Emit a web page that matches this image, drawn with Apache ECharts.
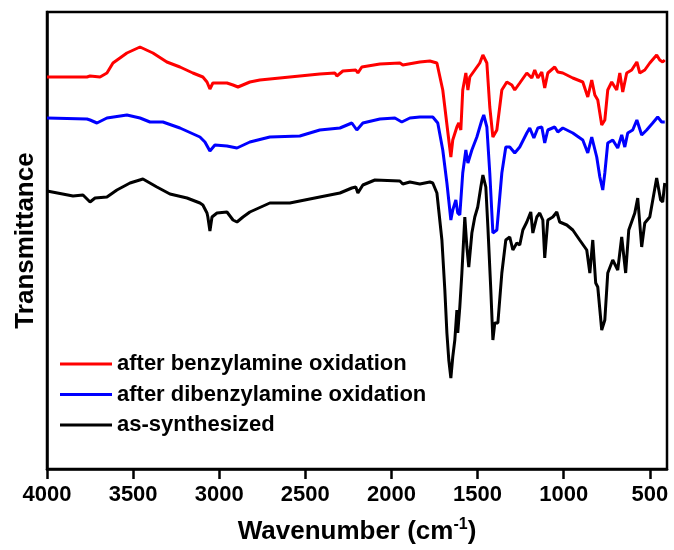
<!DOCTYPE html>
<html>
<head>
<meta charset="utf-8">
<script src="https://cdn.jsdelivr.net/npm/echarts@6/dist/echarts.min.js"></script>
<style>
html,body{margin:0;padding:0;background:#fff;}
#chart{width:674px;height:550px;}
</style>
</head>
<body>
<div id="chart"></div>
<script>
// Legend / series names
var seriesNames = ['after benzylamine oxidation', 'after dibenzylamine oxidation', 'as-synthesized'];
var seriesColors = ['#ff0000', '#0000ff', '#000000'];

// X tick labels (wavenumber, cm-1)
var xTicks = [4000, 3500, 3000, 2500, 2000, 1500, 1000, 500];

// after benzylamine oxidation (red), offset transmittance (a.u.)
var redWn = [4000,3849,3768,3750,3739,3692,3652,3617,3536,3460,3385,3304,3228,3153,3095,3071,3054,3037,2955,2920,2891,2880,2822,2764,2590,2416,2328,2317,2282,2207,2195,2172,2067,1951,1934,1835,1777,1736,1731,1702,1672,1655,1644,1620,1609,1597,1586,1568,1556,1545,1516,1487,1469,1446,1429,1411,1388,1359,1330,1301,1284,1255,1214,1185,1168,1150,1127,1110,1092,1052,1034,1005,947,889,860,837,819,802,779,761,744,721,692,674,657,634,605,575,558,529,500,460,442,425,413];
var redT  = [392,392,392,393,391,392,396,406,416,422,416,407,402,396,392,387,380,386,386,384,382,384,387,389,392,395,396,393,398,399,396,402,405,406,404,407,408,406,404,379,336,312,329,342,346,339,379,396,379,392,399,406,414,406,362,332,339,379,387,384,379,386,396,391,399,391,397,381,396,402,397,396,391,387,372,389,374,369,344,349,379,387,379,396,377,396,399,407,396,399,406,414,409,407,409];

// after dibenzylamine oxidation (blue)
var blueWn = [4000,3768,3750,3739,3710,3652,3536,3460,3402,3327,3228,3112,3083,3054,3025,2955,2897,2822,2706,2532,2416,2299,2230,2201,2166,2067,1980,1940,1893,1835,1760,1731,1702,1678,1655,1644,1626,1615,1603,1586,1568,1556,1533,1504,1475,1464,1446,1429,1411,1388,1359,1336,1313,1284,1255,1214,1197,1173,1150,1127,1110,1092,1052,1034,1005,947,889,860,837,808,790,773,761,744,715,686,663,645,628,599,575,547,518,483,454,431,413];
var blueT  = [351,350,349,351,346,351,354,351,347,347,341,332,327,318,324,323,321,327,332,333,339,341,346,339,346,350,351,347,351,352,352,346,319,286,249,259,269,256,254,296,319,306,319,332,349,354,342,296,236,239,296,322,322,316,322,336,341,331,341,342,326,339,342,337,341,336,329,316,332,312,292,279,296,326,329,321,334,322,336,339,349,334,339,346,352,347,347];

// as-synthesized (black)
var blackWn = [4000,3849,3791,3750,3721,3652,3594,3518,3443,3362,3286,3187,3112,3095,3071,3066,3054,3042,3013,2955,2920,2897,2862,2822,2706,2590,2503,2416,2299,2230,2207,2195,2166,2096,1951,1934,1893,1835,1777,1760,1736,1707,1690,1678,1667,1655,1644,1632,1620,1615,1603,1591,1574,1562,1551,1533,1516,1499,1481,1469,1452,1440,1423,1411,1400,1382,1359,1336,1313,1295,1272,1255,1237,1214,1191,1179,1156,1139,1121,1110,1092,1063,1040,1023,982,947,907,866,848,831,814,802,779,761,744,715,686,663,640,622,587,570,547,529,500,460,437,425,413];
var blackT  = [278,273,274,267,271,272,279,286,290,282,275,271,266,264,256,252,238,252,256,257,249,247,252,257,266,266,269,272,276,281,282,276,284,289,288,285,287,285,287,286,276,229,179,136,109,91,112,129,159,136,162,196,252,222,202,236,252,262,282,294,282,242,179,129,146,146,196,229,232,219,226,224,239,247,257,236,252,256,249,211,249,252,257,247,244,239,229,219,196,229,186,182,139,149,196,209,199,232,196,239,256,271,222,246,252,291,269,267,286];

function pairs(xs, ys){ var out=[]; for (var i=0;i<xs.length;i++) out.push([xs[i], ys[i]]); return out; }

var FONT = '"Liberation Sans", Arial, sans-serif';
var chart = echarts.init(document.getElementById('chart'), null, {renderer:'canvas'});
var seriesData = [pairs(redWn, redT), pairs(blueWn, blueT), pairs(blackWn, blackT)];

chart.setOption({
  animation: false,
  backgroundColor: '#ffffff',
  grid: {left: 47, right: 7, top: 12, bottom: 81, show: true, borderColor: '#000', borderWidth: 2.5, backgroundColor: 'transparent'},
  legend: {
    orient: 'vertical', left: 55, top: 348,
    itemWidth: 52, itemHeight: 3, itemGap: 8.5,
    icon: 'rect',
    data: seriesNames,
    textStyle: {fontFamily: FONT, fontWeight: 'bold', fontSize: 22, color: '#000', lineHeight: 22}
  },
  xAxis: {
    type: 'value', inverse: true, min: 400, max: 4000,
    name: '{a|Wavenumber (cm}{s|-1}{a|)}',
    nameLocation: 'middle', nameGap: 48,
    nameTextStyle: {
      rich: {
        a: {fontFamily: FONT, fontWeight: 'bold', fontSize: 26, color: '#000'},
        s: {fontFamily: FONT, fontWeight: 'bold', fontSize: 16, color: '#000', verticalAlign: 'top', padding: [0,0,14,0]}
      }
    },
    axisLine: {show: true, onZero: false, lineStyle: {color: '#000', width: 2.5}},
    axisTick: {show: true, inside: false, length: 10, lineStyle: {color: '#000', width: 2.5}, customValues: xTicks},
    axisLabel: {show: true, margin: 15, fontFamily: FONT, fontWeight: 'bold', fontSize: 22, color: '#000', customValues: xTicks,
      formatter: function(v){ return String(v); }},
    splitLine: {show: false}
  },
  yAxis: {
    type: 'value', min: 0, max: 457,
    name: 'Transmittance', nameLocation: 'middle', nameGap: 8, nameRotate: 90,
    nameTextStyle: {fontFamily: FONT, fontWeight: 'bold', fontSize: 26, color: '#000'},
    axisLine: {show: true, lineStyle: {color: '#000', width: 2.5}},
    axisTick: {show: false}, axisLabel: {show: false}, splitLine: {show: false}
  },
  series: seriesNames.map(function(n, i){
    return {
      name: n, type: 'line', data: seriesData[i], symbol: 'none', showSymbol: false,
      smooth: false, lineStyle: {color: seriesColors[i], width: 3}, itemStyle: {color: seriesColors[i]},
      clip: true
    };
  })
});
</script>
</body>
</html>
